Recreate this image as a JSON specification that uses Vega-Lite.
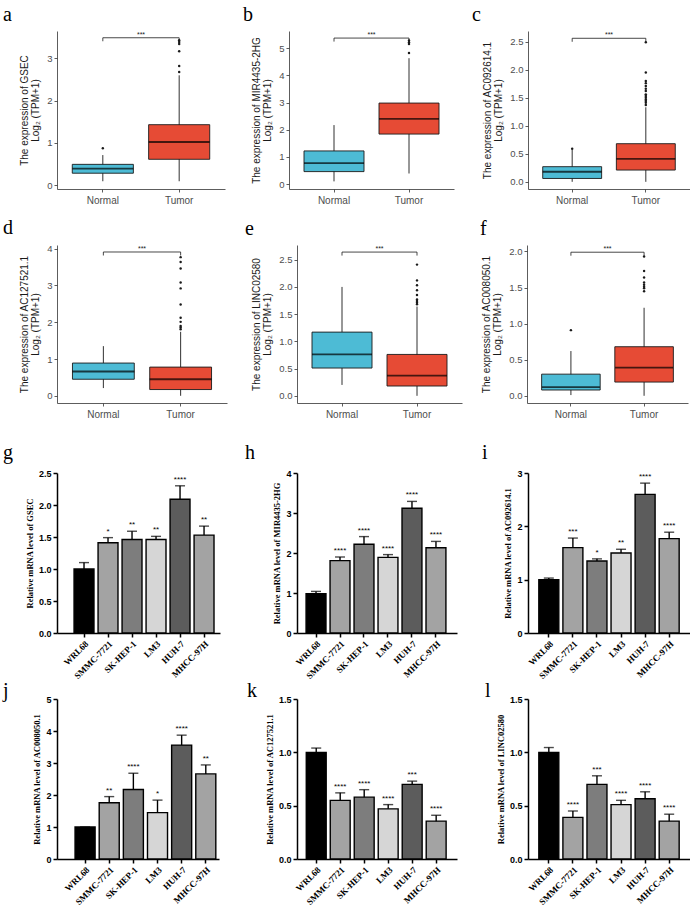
{
  "$schema": "https://vega.github.io/schema/vega-lite/v6.json",
  "background": "white",
  "padding": {"left": 3, "top": 4, "right": 0, "bottom": 0},
  "config": {
    "view": {"stroke": null},
    "font": "Liberation Sans",
    "axis": {"grid": false, "labelOverlap": false},
    "title": {"font": "Liberation Serif", "fontSize": 20, "fontWeight": "normal", "anchor": "start", "frame": "group", "color": "#000000", "offset": 6},
    "style": {
      "boxY": {"labelFont": "Liberation Sans", "labelFontSize": 9.5, "labelColor": "#4d4d4d", "titleFont": "Liberation Sans", "titleFontSize": 10, "titleFontWeight": "normal", "titleColor": "#1a1a1a", "titleLineHeight": 11, "titlePadding": 6, "domainColor": "#333333", "domainWidth": 0.8, "tickColor": "#333333", "tickWidth": 0.8, "tickSize": 3, "labelPadding": 2},
      "boxX": {"labelFont": "Liberation Sans", "labelFontSize": 10, "labelColor": "#4d4d4d", "labelAngle": 0, "domainColor": "#333333", "domainWidth": 0.8, "tickColor": "#333333", "tickWidth": 0.8, "tickSize": 3, "labelPadding": 3},
      "barY": {"labelFont": "Liberation Sans", "labelFontWeight": "bold", "labelFontSize": 9, "labelColor": "#000000", "titleFont": "Liberation Serif", "titleFontWeight": "bold", "titleFontSize": 8.5, "titleColor": "#000000", "titlePadding": 4, "domainColor": "#000000", "domainWidth": 1.5, "tickColor": "#000000", "tickWidth": 1.5, "tickSize": 4, "labelPadding": 2},
      "barX": {"labelFont": "Liberation Serif", "labelFontWeight": "bold", "labelFontSize": 9, "labelColor": "#000000", "labelAngle": -45, "domainColor": "#000000", "domainWidth": 1.5, "tickColor": "#000000", "tickWidth": 1.5, "tickSize": 4, "labelPadding": 2}
    }
  },
  "datasets": {
    "boxes": [
      {"gene": "GSEC", "group": "Normal", "lo": 0.09, "q1": 0.28, "med": 0.39, "q3": 0.49, "hi": 0.71},
      {"gene": "GSEC", "group": "Tumor", "lo": 0.09, "q1": 0.61, "med": 1.02, "q3": 1.43, "hi": 2.60},
      {"gene": "MIR4435-2HG", "group": "Normal", "lo": 0.10, "q1": 0.46, "med": 0.77, "q3": 1.22, "hi": 2.17},
      {"gene": "MIR4435-2HG", "group": "Tumor", "lo": 0.39, "q1": 1.84, "med": 2.40, "q3": 2.98, "hi": 4.63},
      {"gene": "AC092614.1", "group": "Normal", "lo": 0.00, "q1": 0.06, "med": 0.18, "q3": 0.27, "hi": 0.57},
      {"gene": "AC092614.1", "group": "Tumor", "lo": 0.00, "q1": 0.21, "med": 0.41, "q3": 0.68, "hi": 1.33},
      {"gene": "AC127521.1", "group": "Normal", "lo": 0.21, "q1": 0.45, "med": 0.66, "q3": 0.89, "hi": 1.35},
      {"gene": "AC127521.1", "group": "Tumor", "lo": 0.00, "q1": 0.17, "med": 0.45, "q3": 0.78, "hi": 1.74},
      {"gene": "LINC02580", "group": "Normal", "lo": 0.20, "q1": 0.51, "med": 0.76, "q3": 1.17, "hi": 2.00},
      {"gene": "LINC02580", "group": "Tumor", "lo": 0.00, "q1": 0.18, "med": 0.37, "q3": 0.76, "hi": 1.64},
      {"gene": "AC008050.1", "group": "Normal", "lo": 0.01, "q1": 0.08, "med": 0.12, "q3": 0.30, "hi": 0.62},
      {"gene": "AC008050.1", "group": "Tumor", "lo": 0.00, "q1": 0.19, "med": 0.39, "q3": 0.68, "hi": 1.22}
    ],
    "outliers": [
      {"gene": "GSEC", "group": "Normal", "value": 0.87},
      {"gene": "GSEC", "group": "Tumor", "value": 2.68},
      {"gene": "GSEC", "group": "Tumor", "value": 2.82},
      {"gene": "GSEC", "group": "Tumor", "value": 3.17},
      {"gene": "GSEC", "group": "Tumor", "value": 3.34},
      {"gene": "GSEC", "group": "Tumor", "value": 3.39},
      {"gene": "GSEC", "group": "Tumor", "value": 3.43},
      {"gene": "MIR4435-2HG", "group": "Tumor", "value": 4.82},
      {"gene": "MIR4435-2HG", "group": "Tumor", "value": 5.15},
      {"gene": "MIR4435-2HG", "group": "Tumor", "value": 5.22},
      {"gene": "MIR4435-2HG", "group": "Tumor", "value": 5.28},
      {"gene": "AC092614.1", "group": "Normal", "value": 0.59},
      {"gene": "AC092614.1", "group": "Tumor", "value": 1.37},
      {"gene": "AC092614.1", "group": "Tumor", "value": 1.41},
      {"gene": "AC092614.1", "group": "Tumor", "value": 1.44},
      {"gene": "AC092614.1", "group": "Tumor", "value": 1.47},
      {"gene": "AC092614.1", "group": "Tumor", "value": 1.50},
      {"gene": "AC092614.1", "group": "Tumor", "value": 1.53},
      {"gene": "AC092614.1", "group": "Tumor", "value": 1.56},
      {"gene": "AC092614.1", "group": "Tumor", "value": 1.62},
      {"gene": "AC092614.1", "group": "Tumor", "value": 1.66},
      {"gene": "AC092614.1", "group": "Tumor", "value": 1.71},
      {"gene": "AC092614.1", "group": "Tumor", "value": 1.76},
      {"gene": "AC092614.1", "group": "Tumor", "value": 1.80},
      {"gene": "AC092614.1", "group": "Tumor", "value": 1.95},
      {"gene": "AC092614.1", "group": "Tumor", "value": 2.49},
      {"gene": "AC127521.1", "group": "Tumor", "value": 1.81},
      {"gene": "AC127521.1", "group": "Tumor", "value": 1.86},
      {"gene": "AC127521.1", "group": "Tumor", "value": 1.90},
      {"gene": "AC127521.1", "group": "Tumor", "value": 2.01},
      {"gene": "AC127521.1", "group": "Tumor", "value": 2.12},
      {"gene": "AC127521.1", "group": "Tumor", "value": 2.48},
      {"gene": "AC127521.1", "group": "Tumor", "value": 2.92},
      {"gene": "AC127521.1", "group": "Tumor", "value": 3.08},
      {"gene": "AC127521.1", "group": "Tumor", "value": 3.46},
      {"gene": "AC127521.1", "group": "Tumor", "value": 3.64},
      {"gene": "AC127521.1", "group": "Tumor", "value": 3.77},
      {"gene": "LINC02580", "group": "Tumor", "value": 1.68},
      {"gene": "LINC02580", "group": "Tumor", "value": 1.71},
      {"gene": "LINC02580", "group": "Tumor", "value": 1.74},
      {"gene": "LINC02580", "group": "Tumor", "value": 1.77},
      {"gene": "LINC02580", "group": "Tumor", "value": 1.85},
      {"gene": "LINC02580", "group": "Tumor", "value": 1.94},
      {"gene": "LINC02580", "group": "Tumor", "value": 2.03},
      {"gene": "LINC02580", "group": "Tumor", "value": 2.12},
      {"gene": "LINC02580", "group": "Tumor", "value": 2.41},
      {"gene": "AC008050.1", "group": "Normal", "value": 0.91},
      {"gene": "AC008050.1", "group": "Tumor", "value": 1.45},
      {"gene": "AC008050.1", "group": "Tumor", "value": 1.49},
      {"gene": "AC008050.1", "group": "Tumor", "value": 1.51},
      {"gene": "AC008050.1", "group": "Tumor", "value": 1.54},
      {"gene": "AC008050.1", "group": "Tumor", "value": 1.57},
      {"gene": "AC008050.1", "group": "Tumor", "value": 1.64},
      {"gene": "AC008050.1", "group": "Tumor", "value": 1.73},
      {"gene": "AC008050.1", "group": "Tumor", "value": 1.93}
    ],
    "brackets": [
      {"gene": "GSEC", "from": "Normal", "to": "Tumor", "level": 3.49, "sig": "***"},
      {"gene": "MIR4435-2HG", "from": "Normal", "to": "Tumor", "level": 5.37, "sig": "***"},
      {"gene": "AC092614.1", "from": "Normal", "to": "Tumor", "level": 2.56, "sig": "***"},
      {"gene": "AC127521.1", "from": "Normal", "to": "Tumor", "level": 3.91, "sig": "***"},
      {"gene": "LINC02580", "from": "Normal", "to": "Tumor", "level": 2.64, "sig": "***"},
      {"gene": "AC008050.1", "from": "Normal", "to": "Tumor", "level": 1.99, "sig": "***"}
    ],
    "bars": [
      {"gene": "GSEC", "line": "WRL68", "mean": 1.00, "top": 1.10, "sig": ""},
      {"gene": "GSEC", "line": "SMMC-7721", "mean": 1.41, "top": 1.49, "sig": "*"},
      {"gene": "GSEC", "line": "SK-HEP-1", "mean": 1.46, "top": 1.59, "sig": "**"},
      {"gene": "GSEC", "line": "LM3", "mean": 1.46, "top": 1.51, "sig": "**"},
      {"gene": "GSEC", "line": "HUH-7", "mean": 2.09, "top": 2.30, "sig": "****"},
      {"gene": "GSEC", "line": "MHCC-97H", "mean": 1.53, "top": 1.67, "sig": "**"},
      {"gene": "MIR4435-2HG", "line": "WRL68", "mean": 0.98, "top": 1.04, "sig": ""},
      {"gene": "MIR4435-2HG", "line": "SMMC-7721", "mean": 1.81, "top": 1.90, "sig": "****"},
      {"gene": "MIR4435-2HG", "line": "SK-HEP-1", "mean": 2.22, "top": 2.41, "sig": "****"},
      {"gene": "MIR4435-2HG", "line": "LM3", "mean": 1.89, "top": 1.96, "sig": "****"},
      {"gene": "MIR4435-2HG", "line": "HUH-7", "mean": 3.12, "top": 3.29, "sig": "****"},
      {"gene": "MIR4435-2HG", "line": "MHCC-97H", "mean": 2.13, "top": 2.29, "sig": "****"},
      {"gene": "AC092614.1", "line": "WRL68", "mean": 1.00, "top": 1.03, "sig": ""},
      {"gene": "AC092614.1", "line": "SMMC-7721", "mean": 1.60, "top": 1.78, "sig": "***"},
      {"gene": "AC092614.1", "line": "SK-HEP-1", "mean": 1.35, "top": 1.39, "sig": "*"},
      {"gene": "AC092614.1", "line": "LM3", "mean": 1.50, "top": 1.57, "sig": "**"},
      {"gene": "AC092614.1", "line": "HUH-7", "mean": 2.60, "top": 2.81, "sig": "****"},
      {"gene": "AC092614.1", "line": "MHCC-97H", "mean": 1.77, "top": 1.89, "sig": "****"},
      {"gene": "AC008050.1", "line": "WRL68", "mean": 1.00, "top": 1.00, "sig": ""},
      {"gene": "AC008050.1", "line": "SMMC-7721", "mean": 1.76, "top": 1.95, "sig": "**"},
      {"gene": "AC008050.1", "line": "SK-HEP-1", "mean": 2.17, "top": 2.68, "sig": "****"},
      {"gene": "AC008050.1", "line": "LM3", "mean": 1.45, "top": 1.84, "sig": "*"},
      {"gene": "AC008050.1", "line": "HUH-7", "mean": 3.56, "top": 3.87, "sig": "****"},
      {"gene": "AC008050.1", "line": "MHCC-97H", "mean": 2.66, "top": 2.94, "sig": "**"},
      {"gene": "AC127521.1", "line": "WRL68", "mean": 1.00, "top": 1.04, "sig": ""},
      {"gene": "AC127521.1", "line": "SMMC-7721", "mean": 0.55, "top": 0.62, "sig": "****"},
      {"gene": "AC127521.1", "line": "SK-HEP-1", "mean": 0.58, "top": 0.65, "sig": "****"},
      {"gene": "AC127521.1", "line": "LM3", "mean": 0.47, "top": 0.51, "sig": "****"},
      {"gene": "AC127521.1", "line": "HUH-7", "mean": 0.70, "top": 0.73, "sig": "***"},
      {"gene": "AC127521.1", "line": "MHCC-97H", "mean": 0.355, "top": 0.41, "sig": "****"},
      {"gene": "LINC02580", "line": "WRL68", "mean": 1.00, "top": 1.045, "sig": ""},
      {"gene": "LINC02580", "line": "SMMC-7721", "mean": 0.39, "top": 0.45, "sig": "****"},
      {"gene": "LINC02580", "line": "SK-HEP-1", "mean": 0.70, "top": 0.78, "sig": "***"},
      {"gene": "LINC02580", "line": "LM3", "mean": 0.51, "top": 0.55, "sig": "****"},
      {"gene": "LINC02580", "line": "HUH-7", "mean": 0.565, "top": 0.63, "sig": "****"},
      {"gene": "LINC02580", "line": "MHCC-97H", "mean": 0.355, "top": 0.42, "sig": "****"}
    ]
  },
  "spacing": 24,
  "vconcat": [
    {
      "spacing": 12,
      "vconcat": [
        {
          "spacing": 18,
          "hconcat": [
            {
              "title": {"text": "a", "dx": -54},
              "width": 168, "height": 158,
              "layer": [
                {"data": {"name": "boxes"}, "transform": [{"filter": "datum.gene === 'GSEC'"}],
                 "layer": [
                   {"mark": {"type": "rule", "color": "#1a1a1a", "strokeWidth": 0.9},
                    "encoding": {
                      "x": {"field": "group", "type": "nominal", "title": null, "scale": {"domain": ["Normal", "Tumor"], "paddingInner": 0, "paddingOuter": 0.1}, "axis": {"style": "boxX", "title": null}},
                      "y": {"field": "lo", "type": "quantitative", "scale": {"domain": [-0.094, 3.65], "nice": false, "zero": false}, "axis": {"style": "boxY", "title": ["The expression of GSEC", "Log₂ (TPM+1)"], "values": [0, 1, 2, 3], "tickCount": 10, "format": "d"}},
                      "y2": {"field": "hi"}}},
                   {"mark": {"type": "bar", "stroke": "#1a1a1a", "strokeWidth": 0.9, "width": {"band": 0.8}},
                    "encoding": {"x": {"field": "group", "type": "nominal"}, "y": {"field": "q1", "type": "quantitative"}, "y2": {"field": "q3"},
                      "color": {"field": "group", "type": "nominal", "scale": {"domain": ["Normal", "Tumor"], "range": ["#4DBBD5", "#E64B35"]}, "legend": null}}},
                   {"mark": {"type": "tick", "color": "#000000", "thickness": 1.8, "size": 61},
                    "encoding": {"x": {"field": "group", "type": "nominal"}, "y": {"field": "med", "type": "quantitative"}}}
                 ]},
                {"data": {"name": "outliers"}, "transform": [{"filter": "datum.gene === 'GSEC'"}],
                 "mark": {"type": "circle", "color": "#1a1a1a", "size": 6, "opacity": 1},
                 "encoding": {"x": {"field": "group", "type": "nominal"}, "y": {"field": "value", "type": "quantitative"}}},
                {"data": {"name": "brackets"}, "transform": [{"filter": "datum.gene === 'GSEC'"}],
                 "layer": [
                   {"mark": {"type": "rule", "color": "#1a1a1a", "strokeWidth": 0.8},
                    "encoding": {"x": {"field": "from", "type": "nominal", "bandPosition": 0.5}, "x2": {"field": "to", "bandPosition": 0.5}, "y": {"field": "level", "type": "quantitative"}}},
                   {"transform": [{"fold": ["from", "to"], "as": ["end", "side"]}],
                    "mark": {"type": "rule", "color": "#1a1a1a", "strokeWidth": 0.8, "y2Offset": 3.5},
                    "encoding": {"x": {"field": "side", "type": "nominal", "bandPosition": 0.5}, "y": {"field": "level", "type": "quantitative"}, "y2": {"field": "level"}}},
                   {"mark": {"type": "text", "fontSize": 7, "dy": -1, "baseline": "alphabetic", "color": "#1a1a1a"},
                    "encoding": {"x": {"field": "from", "type": "nominal", "bandPosition": 1}, "y": {"field": "level", "type": "quantitative"}, "text": {"field": "sig"}}}
                 ]}
              ]
            },
            {
              "title": {"text": "b", "dx": -46},
              "width": 165, "height": 158,
              "layer": [
                {"data": {"name": "boxes"}, "transform": [{"filter": "datum.gene === 'MIR4435-2HG'"}],
                 "layer": [
                   {"mark": {"type": "rule", "color": "#1a1a1a", "strokeWidth": 0.9},
                    "encoding": {
                      "x": {"field": "group", "type": "nominal", "title": null, "scale": {"domain": ["Normal", "Tumor"], "paddingInner": 0, "paddingOuter": 0.1}, "axis": {"style": "boxX", "title": null}},
                      "y": {"field": "lo", "type": "quantitative", "scale": {"domain": [-0.18, 5.63], "nice": false, "zero": false}, "axis": {"style": "boxY", "title": ["The expression of MIR4435-2HG", "Log₂ (TPM+1)"], "values": [0, 1, 2, 3, 4, 5], "tickCount": 10, "format": "d"}},
                      "y2": {"field": "hi"}}},
                   {"mark": {"type": "bar", "stroke": "#1a1a1a", "strokeWidth": 0.9, "width": {"band": 0.8}},
                    "encoding": {"x": {"field": "group", "type": "nominal"}, "y": {"field": "q1", "type": "quantitative"}, "y2": {"field": "q3"},
                      "color": {"field": "group", "type": "nominal", "scale": {"domain": ["Normal", "Tumor"], "range": ["#4DBBD5", "#E64B35"]}, "legend": null}}},
                   {"mark": {"type": "tick", "color": "#000000", "thickness": 1.8, "size": 60},
                    "encoding": {"x": {"field": "group", "type": "nominal"}, "y": {"field": "med", "type": "quantitative"}}}
                 ]},
                {"data": {"name": "outliers"}, "transform": [{"filter": "datum.gene === 'MIR4435-2HG'"}],
                 "mark": {"type": "circle", "color": "#1a1a1a", "size": 6, "opacity": 1},
                 "encoding": {"x": {"field": "group", "type": "nominal"}, "y": {"field": "value", "type": "quantitative"}}},
                {"data": {"name": "brackets"}, "transform": [{"filter": "datum.gene === 'MIR4435-2HG'"}],
                 "layer": [
                   {"mark": {"type": "rule", "color": "#1a1a1a", "strokeWidth": 0.8},
                    "encoding": {"x": {"field": "from", "type": "nominal", "bandPosition": 0.5}, "x2": {"field": "to", "bandPosition": 0.5}, "y": {"field": "level", "type": "quantitative"}}},
                   {"transform": [{"fold": ["from", "to"], "as": ["end", "side"]}],
                    "mark": {"type": "rule", "color": "#1a1a1a", "strokeWidth": 0.8, "y2Offset": 3.5},
                    "encoding": {"x": {"field": "side", "type": "nominal", "bandPosition": 0.5}, "y": {"field": "level", "type": "quantitative"}, "y2": {"field": "level"}}},
                   {"mark": {"type": "text", "fontSize": 7, "dy": -1, "baseline": "alphabetic", "color": "#1a1a1a"},
                    "encoding": {"x": {"field": "from", "type": "nominal", "bandPosition": 1}, "y": {"field": "level", "type": "quantitative"}, "text": {"field": "sig"}}}
                 ]}
              ]
            },
            {
              "title": {"text": "c", "dx": -56},
              "width": 162, "height": 158,
              "layer": [
                {"data": {"name": "boxes"}, "transform": [{"filter": "datum.gene === 'AC092614.1'"}],
                 "layer": [
                   {"mark": {"type": "rule", "color": "#1a1a1a", "strokeWidth": 0.9},
                    "encoding": {
                      "x": {"field": "group", "type": "nominal", "title": null, "scale": {"domain": ["Normal", "Tumor"], "paddingInner": 0, "paddingOuter": 0.1}, "axis": {"style": "boxX", "title": null}},
                      "y": {"field": "lo", "type": "quantitative", "scale": {"domain": [-0.128, 2.69], "nice": false, "zero": false}, "axis": {"style": "boxY", "title": ["The expression of AC092614.1", "Log₂ (TPM+1)"], "values": [0, 0.5, 1, 1.5, 2, 2.5], "tickCount": 10, "format": ".1f"}},
                      "y2": {"field": "hi"}}},
                   {"mark": {"type": "bar", "stroke": "#1a1a1a", "strokeWidth": 0.9, "width": {"band": 0.8}},
                    "encoding": {"x": {"field": "group", "type": "nominal"}, "y": {"field": "q1", "type": "quantitative"}, "y2": {"field": "q3"},
                      "color": {"field": "group", "type": "nominal", "scale": {"domain": ["Normal", "Tumor"], "range": ["#4DBBD5", "#E64B35"]}, "legend": null}}},
                   {"mark": {"type": "tick", "color": "#000000", "thickness": 1.8, "size": 59},
                    "encoding": {"x": {"field": "group", "type": "nominal"}, "y": {"field": "med", "type": "quantitative"}}}
                 ]},
                {"data": {"name": "outliers"}, "transform": [{"filter": "datum.gene === 'AC092614.1'"}],
                 "mark": {"type": "circle", "color": "#1a1a1a", "size": 6, "opacity": 1},
                 "encoding": {"x": {"field": "group", "type": "nominal"}, "y": {"field": "value", "type": "quantitative"}}},
                {"data": {"name": "brackets"}, "transform": [{"filter": "datum.gene === 'AC092614.1'"}],
                 "layer": [
                   {"mark": {"type": "rule", "color": "#1a1a1a", "strokeWidth": 0.8},
                    "encoding": {"x": {"field": "from", "type": "nominal", "bandPosition": 0.5}, "x2": {"field": "to", "bandPosition": 0.5}, "y": {"field": "level", "type": "quantitative"}}},
                   {"transform": [{"fold": ["from", "to"], "as": ["end", "side"]}],
                    "mark": {"type": "rule", "color": "#1a1a1a", "strokeWidth": 0.8, "y2Offset": 3.5},
                    "encoding": {"x": {"field": "side", "type": "nominal", "bandPosition": 0.5}, "y": {"field": "level", "type": "quantitative"}, "y2": {"field": "level"}}},
                   {"mark": {"type": "text", "fontSize": 7, "dy": -1, "baseline": "alphabetic", "color": "#1a1a1a"},
                    "encoding": {"x": {"field": "from", "type": "nominal", "bandPosition": 1}, "y": {"field": "level", "type": "quantitative"}, "text": {"field": "sig"}}}
                 ]}
              ]
            }
          ]
        },
        {
          "spacing": 18,
          "hconcat": [
            {
              "title": {"text": "d", "dx": -54},
              "width": 170, "height": 158,
              "layer": [
                {"data": {"name": "boxes"}, "transform": [{"filter": "datum.gene === 'AC127521.1'"}],
                 "layer": [
                   {"mark": {"type": "rule", "color": "#1a1a1a", "strokeWidth": 0.9},
                    "encoding": {
                      "x": {"field": "group", "type": "nominal", "title": null, "scale": {"domain": ["Normal", "Tumor"], "paddingInner": 0, "paddingOuter": 0.1}, "axis": {"style": "boxX", "title": null}},
                      "y": {"field": "lo", "type": "quantitative", "scale": {"domain": [-0.196, 4.1], "nice": false, "zero": false}, "axis": {"style": "boxY", "title": ["The expression of AC127521.1", "Log₂ (TPM+1)"], "values": [0, 1, 2, 3, 4], "tickCount": 10, "format": "d"}},
                      "y2": {"field": "hi"}}},
                   {"mark": {"type": "bar", "stroke": "#1a1a1a", "strokeWidth": 0.9, "width": {"band": 0.8}},
                    "encoding": {"x": {"field": "group", "type": "nominal"}, "y": {"field": "q1", "type": "quantitative"}, "y2": {"field": "q3"},
                      "color": {"field": "group", "type": "nominal", "scale": {"domain": ["Normal", "Tumor"], "range": ["#4DBBD5", "#E64B35"]}, "legend": null}}},
                   {"mark": {"type": "tick", "color": "#000000", "thickness": 1.8, "size": 62},
                    "encoding": {"x": {"field": "group", "type": "nominal"}, "y": {"field": "med", "type": "quantitative"}}}
                 ]},
                {"data": {"name": "outliers"}, "transform": [{"filter": "datum.gene === 'AC127521.1'"}],
                 "mark": {"type": "circle", "color": "#1a1a1a", "size": 6, "opacity": 1},
                 "encoding": {"x": {"field": "group", "type": "nominal"}, "y": {"field": "value", "type": "quantitative"}}},
                {"data": {"name": "brackets"}, "transform": [{"filter": "datum.gene === 'AC127521.1'"}],
                 "layer": [
                   {"mark": {"type": "rule", "color": "#1a1a1a", "strokeWidth": 0.8},
                    "encoding": {"x": {"field": "from", "type": "nominal", "bandPosition": 0.5}, "x2": {"field": "to", "bandPosition": 0.5}, "y": {"field": "level", "type": "quantitative"}}},
                   {"transform": [{"fold": ["from", "to"], "as": ["end", "side"]}],
                    "mark": {"type": "rule", "color": "#1a1a1a", "strokeWidth": 0.8, "y2Offset": 3.5},
                    "encoding": {"x": {"field": "side", "type": "nominal", "bandPosition": 0.5}, "y": {"field": "level", "type": "quantitative"}, "y2": {"field": "level"}}},
                   {"mark": {"type": "text", "fontSize": 7, "dy": -1, "baseline": "alphabetic", "color": "#1a1a1a"},
                    "encoding": {"x": {"field": "from", "type": "nominal", "bandPosition": 1}, "y": {"field": "level", "type": "quantitative"}, "text": {"field": "sig"}}}
                 ]}
              ]
            },
            {
              "title": {"text": "e", "dx": -52},
              "width": 165, "height": 158,
              "layer": [
                {"data": {"name": "boxes"}, "transform": [{"filter": "datum.gene === 'LINC02580'"}],
                 "layer": [
                   {"mark": {"type": "rule", "color": "#1a1a1a", "strokeWidth": 0.9},
                    "encoding": {
                      "x": {"field": "group", "type": "nominal", "title": null, "scale": {"domain": ["Normal", "Tumor"], "paddingInner": 0, "paddingOuter": 0.1}, "axis": {"style": "boxX", "title": null}},
                      "y": {"field": "lo", "type": "quantitative", "scale": {"domain": [-0.132, 2.77], "nice": false, "zero": false}, "axis": {"style": "boxY", "title": ["The expression of LINC02580", "Log₂ (TPM+1)"], "values": [0, 0.5, 1, 1.5, 2, 2.5], "tickCount": 10, "format": ".1f"}},
                      "y2": {"field": "hi"}}},
                   {"mark": {"type": "bar", "stroke": "#1a1a1a", "strokeWidth": 0.9, "width": {"band": 0.8}},
                    "encoding": {"x": {"field": "group", "type": "nominal"}, "y": {"field": "q1", "type": "quantitative"}, "y2": {"field": "q3"},
                      "color": {"field": "group", "type": "nominal", "scale": {"domain": ["Normal", "Tumor"], "range": ["#4DBBD5", "#E64B35"]}, "legend": null}}},
                   {"mark": {"type": "tick", "color": "#000000", "thickness": 1.8, "size": 60},
                    "encoding": {"x": {"field": "group", "type": "nominal"}, "y": {"field": "med", "type": "quantitative"}}}
                 ]},
                {"data": {"name": "outliers"}, "transform": [{"filter": "datum.gene === 'LINC02580'"}],
                 "mark": {"type": "circle", "color": "#1a1a1a", "size": 6, "opacity": 1},
                 "encoding": {"x": {"field": "group", "type": "nominal"}, "y": {"field": "value", "type": "quantitative"}}},
                {"data": {"name": "brackets"}, "transform": [{"filter": "datum.gene === 'LINC02580'"}],
                 "layer": [
                   {"mark": {"type": "rule", "color": "#1a1a1a", "strokeWidth": 0.8},
                    "encoding": {"x": {"field": "from", "type": "nominal", "bandPosition": 0.5}, "x2": {"field": "to", "bandPosition": 0.5}, "y": {"field": "level", "type": "quantitative"}}},
                   {"transform": [{"fold": ["from", "to"], "as": ["end", "side"]}],
                    "mark": {"type": "rule", "color": "#1a1a1a", "strokeWidth": 0.8, "y2Offset": 3.5},
                    "encoding": {"x": {"field": "side", "type": "nominal", "bandPosition": 0.5}, "y": {"field": "level", "type": "quantitative"}, "y2": {"field": "level"}}},
                   {"mark": {"type": "text", "fontSize": 7, "dy": -1, "baseline": "alphabetic", "color": "#1a1a1a"},
                    "encoding": {"x": {"field": "from", "type": "nominal", "bandPosition": 1}, "y": {"field": "level", "type": "quantitative"}, "text": {"field": "sig"}}}
                 ]}
              ]
            },
            {
              "title": {"text": "f", "dx": -47},
              "width": 161, "height": 158,
              "layer": [
                {"data": {"name": "boxes"}, "transform": [{"filter": "datum.gene === 'AC008050.1'"}],
                 "layer": [
                   {"mark": {"type": "rule", "color": "#1a1a1a", "strokeWidth": 0.9},
                    "encoding": {
                      "x": {"field": "group", "type": "nominal", "title": null, "scale": {"domain": ["Normal", "Tumor"], "paddingInner": 0, "paddingOuter": 0.1}, "axis": {"style": "boxX", "title": null}},
                      "y": {"field": "lo", "type": "quantitative", "scale": {"domain": [-0.1, 2.09], "nice": false, "zero": false}, "axis": {"style": "boxY", "title": ["The expression of AC008050.1", "Log₂ (TPM+1)"], "values": [0, 0.5, 1, 1.5, 2], "tickCount": 10, "format": ".1f"}},
                      "y2": {"field": "hi"}}},
                   {"mark": {"type": "bar", "stroke": "#1a1a1a", "strokeWidth": 0.9, "width": {"band": 0.8}},
                    "encoding": {"x": {"field": "group", "type": "nominal"}, "y": {"field": "q1", "type": "quantitative"}, "y2": {"field": "q3"},
                      "color": {"field": "group", "type": "nominal", "scale": {"domain": ["Normal", "Tumor"], "range": ["#4DBBD5", "#E64B35"]}, "legend": null}}},
                   {"mark": {"type": "tick", "color": "#000000", "thickness": 1.8, "size": 58},
                    "encoding": {"x": {"field": "group", "type": "nominal"}, "y": {"field": "med", "type": "quantitative"}}}
                 ]},
                {"data": {"name": "outliers"}, "transform": [{"filter": "datum.gene === 'AC008050.1'"}],
                 "mark": {"type": "circle", "color": "#1a1a1a", "size": 6, "opacity": 1},
                 "encoding": {"x": {"field": "group", "type": "nominal"}, "y": {"field": "value", "type": "quantitative"}}},
                {"data": {"name": "brackets"}, "transform": [{"filter": "datum.gene === 'AC008050.1'"}],
                 "layer": [
                   {"mark": {"type": "rule", "color": "#1a1a1a", "strokeWidth": 0.8},
                    "encoding": {"x": {"field": "from", "type": "nominal", "bandPosition": 0.5}, "x2": {"field": "to", "bandPosition": 0.5}, "y": {"field": "level", "type": "quantitative"}}},
                   {"transform": [{"fold": ["from", "to"], "as": ["end", "side"]}],
                    "mark": {"type": "rule", "color": "#1a1a1a", "strokeWidth": 0.8, "y2Offset": 3.5},
                    "encoding": {"x": {"field": "side", "type": "nominal", "bandPosition": 0.5}, "y": {"field": "level", "type": "quantitative"}, "y2": {"field": "level"}}},
                   {"mark": {"type": "text", "fontSize": 7, "dy": -1, "baseline": "alphabetic", "color": "#1a1a1a"},
                    "encoding": {"x": {"field": "from", "type": "nominal", "bandPosition": 1}, "y": {"field": "level", "type": "quantitative"}, "text": {"field": "sig"}}}
                 ]}
              ]
            }
          ]
        }
      ]
    },
    {
      "spacing": 0,
      "vconcat": [
        {
          "spacing": 25,
          "hconcat": [
            {
              "title": {"text": "g", "dx": -54},
              "width": 163, "height": 160,
              "data": {"name": "bars"},
              "transform": [{"filter": "datum.gene === 'GSEC'"}],
              "encoding": {"x": {"field": "line", "type": "nominal", "title": null, "scale": {"domain": ["WRL68", "SMMC-7721", "SK-HEP-1", "LM3", "HUH-7", "MHCC-97H"], "paddingInner": 0.17, "paddingOuter": 0.48, "align": 0.74}, "axis": {"style": "barX", "title": null}}},
              "layer": [
                {"mark": {"type": "bar", "stroke": "#000000", "strokeWidth": 1.4},
                 "encoding": {"y": {"field": "mean", "type": "quantitative", "scale": {"domain": [0, 2.5], "nice": false}, "axis": {"style": "barY", "title": "Relative mRNA level of GSEC", "values": [0, 0.5, 1, 1.5, 2, 2.5], "tickCount": 10, "format": ".1f"}},
                   "fill": {"field": "line", "type": "nominal", "scale": {"domain": ["WRL68", "SMMC-7721", "SK-HEP-1", "LM3", "HUH-7", "MHCC-97H"], "range": ["#000000", "#a3a3a3", "#7d7d7d", "#d6d6d6", "#5c5c5c", "#a3a3a3"]}, "legend": null}}},
                {"mark": {"type": "rule", "color": "#000000", "strokeWidth": 1.4}, "encoding": {"y": {"field": "mean", "type": "quantitative"}, "y2": {"field": "top"}}},
                {"mark": {"type": "tick", "color": "#000000", "thickness": 1.4, "size": 10}, "encoding": {"y": {"field": "top", "type": "quantitative"}}},
                {"mark": {"type": "text", "fontSize": 8, "dy": -4, "baseline": "alphabetic", "color": "#000000"}, "encoding": {"y": {"field": "top", "type": "quantitative"}, "text": {"field": "sig"}}}
              ]
            },
            {
              "title": {"text": "h", "dx": -52},
              "width": 160, "height": 160,
              "data": {"name": "bars"},
              "transform": [{"filter": "datum.gene === 'MIR4435-2HG'"}],
              "encoding": {"x": {"field": "line", "type": "nominal", "title": null, "scale": {"domain": ["WRL68", "SMMC-7721", "SK-HEP-1", "LM3", "HUH-7", "MHCC-97H"], "paddingInner": 0.17, "paddingOuter": 0.42, "align": 0.45}, "axis": {"style": "barX", "title": null}}},
              "layer": [
                {"mark": {"type": "bar", "stroke": "#000000", "strokeWidth": 1.4},
                 "encoding": {"y": {"field": "mean", "type": "quantitative", "scale": {"domain": [0, 4], "nice": false}, "axis": {"style": "barY", "title": "Relative mRNA level of MIR4435-2HG", "values": [0, 1, 2, 3, 4], "tickCount": 10, "format": "d"}},
                   "fill": {"field": "line", "type": "nominal", "scale": {"domain": ["WRL68", "SMMC-7721", "SK-HEP-1", "LM3", "HUH-7", "MHCC-97H"], "range": ["#000000", "#a3a3a3", "#7d7d7d", "#d6d6d6", "#5c5c5c", "#a3a3a3"]}, "legend": null}}},
                {"mark": {"type": "rule", "color": "#000000", "strokeWidth": 1.4}, "encoding": {"y": {"field": "mean", "type": "quantitative"}, "y2": {"field": "top"}}},
                {"mark": {"type": "tick", "color": "#000000", "thickness": 1.4, "size": 10}, "encoding": {"y": {"field": "top", "type": "quantitative"}}},
                {"mark": {"type": "text", "fontSize": 8, "dy": -4, "baseline": "alphabetic", "color": "#000000"}, "encoding": {"y": {"field": "top", "type": "quantitative"}, "text": {"field": "sig"}}}
              ]
            },
            {
              "title": {"text": "i", "dx": -46},
              "width": 162, "height": 160,
              "data": {"name": "bars"},
              "transform": [{"filter": "datum.gene === 'AC092614.1'"}],
              "encoding": {"x": {"field": "line", "type": "nominal", "title": null, "scale": {"domain": ["WRL68", "SMMC-7721", "SK-HEP-1", "LM3", "HUH-7", "MHCC-97H"], "paddingInner": 0.17, "paddingOuter": 0.45, "align": 0.5}, "axis": {"style": "barX", "title": null}}},
              "layer": [
                {"mark": {"type": "bar", "stroke": "#000000", "strokeWidth": 1.4},
                 "encoding": {"y": {"field": "mean", "type": "quantitative", "scale": {"domain": [0, 3], "nice": false}, "axis": {"style": "barY", "title": "Relative mRNA level of AC092614.1", "values": [0, 1, 2, 3], "tickCount": 10, "format": "d"}},
                   "fill": {"field": "line", "type": "nominal", "scale": {"domain": ["WRL68", "SMMC-7721", "SK-HEP-1", "LM3", "HUH-7", "MHCC-97H"], "range": ["#000000", "#a3a3a3", "#7d7d7d", "#d6d6d6", "#5c5c5c", "#a3a3a3"]}, "legend": null}}},
                {"mark": {"type": "rule", "color": "#000000", "strokeWidth": 1.4}, "encoding": {"y": {"field": "mean", "type": "quantitative"}, "y2": {"field": "top"}}},
                {"mark": {"type": "tick", "color": "#000000", "thickness": 1.4, "size": 10}, "encoding": {"y": {"field": "top", "type": "quantitative"}}},
                {"mark": {"type": "text", "fontSize": 8, "dy": -4, "baseline": "alphabetic", "color": "#000000"}, "encoding": {"y": {"field": "top", "type": "quantitative"}, "text": {"field": "sig"}}}
              ]
            }
          ]
        },
        {
          "spacing": 28,
          "hconcat": [
            {
              "title": {"text": "j", "dx": -54, "offset": -6},
              "width": 162, "height": 160,
              "data": {"name": "bars"},
              "transform": [{"filter": "datum.gene === 'AC008050.1'"}],
              "encoding": {"x": {"field": "line", "type": "nominal", "title": null, "scale": {"domain": ["WRL68", "SMMC-7721", "SK-HEP-1", "LM3", "HUH-7", "MHCC-97H"], "paddingInner": 0.17, "paddingOuter": 0.44, "align": 0.85}, "axis": {"style": "barX", "title": null}}},
              "layer": [
                {"mark": {"type": "bar", "stroke": "#000000", "strokeWidth": 1.4},
                 "encoding": {"y": {"field": "mean", "type": "quantitative", "scale": {"domain": [0, 5], "nice": false}, "axis": {"style": "barY", "title": "Relative mRNA level of AC008050.1", "values": [0, 1, 2, 3, 4, 5], "tickCount": 10, "format": "d"}},
                   "fill": {"field": "line", "type": "nominal", "scale": {"domain": ["WRL68", "SMMC-7721", "SK-HEP-1", "LM3", "HUH-7", "MHCC-97H"], "range": ["#000000", "#a3a3a3", "#7d7d7d", "#d6d6d6", "#5c5c5c", "#a3a3a3"]}, "legend": null}}},
                {"mark": {"type": "rule", "color": "#000000", "strokeWidth": 1.4}, "encoding": {"y": {"field": "mean", "type": "quantitative"}, "y2": {"field": "top"}}},
                {"mark": {"type": "tick", "color": "#000000", "thickness": 1.4, "size": 10}, "encoding": {"y": {"field": "top", "type": "quantitative"}}},
                {"mark": {"type": "text", "fontSize": 8, "dy": -4, "baseline": "alphabetic", "color": "#000000"}, "encoding": {"y": {"field": "top", "type": "quantitative"}, "text": {"field": "sig"}}}
              ]
            },
            {
              "title": {"text": "k", "dx": -50, "offset": -6},
              "width": 160, "height": 160,
              "data": {"name": "bars"},
              "transform": [{"filter": "datum.gene === 'AC127521.1'"}],
              "encoding": {"x": {"field": "line", "type": "nominal", "title": null, "scale": {"domain": ["WRL68", "SMMC-7721", "SK-HEP-1", "LM3", "HUH-7", "MHCC-97H"], "paddingInner": 0.17, "paddingOuter": 0.42, "align": 0.46}, "axis": {"style": "barX", "title": null}}},
              "layer": [
                {"mark": {"type": "bar", "stroke": "#000000", "strokeWidth": 1.4},
                 "encoding": {"y": {"field": "mean", "type": "quantitative", "scale": {"domain": [0, 1.5], "nice": false}, "axis": {"style": "barY", "title": "Relative mRNA level of AC127521.1", "values": [0, 0.5, 1, 1.5], "tickCount": 10, "format": ".1f"}},
                   "fill": {"field": "line", "type": "nominal", "scale": {"domain": ["WRL68", "SMMC-7721", "SK-HEP-1", "LM3", "HUH-7", "MHCC-97H"], "range": ["#000000", "#a3a3a3", "#7d7d7d", "#d6d6d6", "#5c5c5c", "#a3a3a3"]}, "legend": null}}},
                {"mark": {"type": "rule", "color": "#000000", "strokeWidth": 1.4}, "encoding": {"y": {"field": "mean", "type": "quantitative"}, "y2": {"field": "top"}}},
                {"mark": {"type": "tick", "color": "#000000", "thickness": 1.4, "size": 10}, "encoding": {"y": {"field": "top", "type": "quantitative"}}},
                {"mark": {"type": "text", "fontSize": 8, "dy": -4, "baseline": "alphabetic", "color": "#000000"}, "encoding": {"y": {"field": "top", "type": "quantitative"}, "text": {"field": "sig"}}}
              ]
            },
            {
              "title": {"text": "l", "dx": -43, "offset": -6},
              "width": 162, "height": 160,
              "data": {"name": "bars"},
              "transform": [{"filter": "datum.gene === 'LINC02580'"}],
              "encoding": {"x": {"field": "line", "type": "nominal", "title": null, "scale": {"domain": ["WRL68", "SMMC-7721", "SK-HEP-1", "LM3", "HUH-7", "MHCC-97H"], "paddingInner": 0.17, "paddingOuter": 0.45, "align": 0.5}, "axis": {"style": "barX", "title": null}}},
              "layer": [
                {"mark": {"type": "bar", "stroke": "#000000", "strokeWidth": 1.4},
                 "encoding": {"y": {"field": "mean", "type": "quantitative", "scale": {"domain": [0, 1.5], "nice": false}, "axis": {"style": "barY", "title": "Relative mRNA level of LINC02580", "values": [0, 0.5, 1, 1.5], "tickCount": 10, "format": ".1f"}},
                   "fill": {"field": "line", "type": "nominal", "scale": {"domain": ["WRL68", "SMMC-7721", "SK-HEP-1", "LM3", "HUH-7", "MHCC-97H"], "range": ["#000000", "#a3a3a3", "#7d7d7d", "#d6d6d6", "#5c5c5c", "#a3a3a3"]}, "legend": null}}},
                {"mark": {"type": "rule", "color": "#000000", "strokeWidth": 1.4}, "encoding": {"y": {"field": "mean", "type": "quantitative"}, "y2": {"field": "top"}}},
                {"mark": {"type": "tick", "color": "#000000", "thickness": 1.4, "size": 10}, "encoding": {"y": {"field": "top", "type": "quantitative"}}},
                {"mark": {"type": "text", "fontSize": 8, "dy": -4, "baseline": "alphabetic", "color": "#000000"}, "encoding": {"y": {"field": "top", "type": "quantitative"}, "text": {"field": "sig"}}}
              ]
            }
          ]
        }
      ]
    }
  ]
}
